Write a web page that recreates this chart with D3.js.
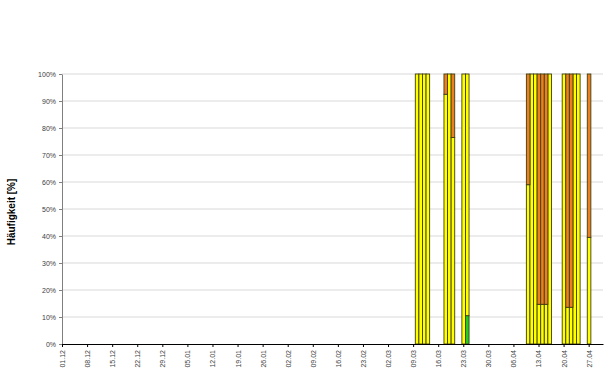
<!DOCTYPE html>
<html>
<head>
<meta charset="utf-8">
<script src="https://cdn.jsdelivr.net/npm/d3@7"></script>
<style>
  html, body { margin: 0; padding: 0; background: #fff; }
  svg { display: block; font-family: "Liberation Sans", Arial, sans-serif; }
</style>
</head>
<body>
<svg id="chart" width="616" height="380"></svg>
<script>
// ---- data ----
const tickLabels = ["01.12","08.12","15.12","22.12","29.12","05.01","12.01","19.01","26.01","02.02","09.02","16.02","23.02","02.03","09.03","16.03","23.03","30.03","06.04","13.04","20.04","27.04"];
const yTicks = [0,10,20,30,40,50,60,70,80,90,100];
const dates  = ["10.03","11.03","12.03","13.03","18.03","19.03","20.03","23.03","24.03","10.04","11.04","12.04","13.04","14.04","15.04","16.04","20.04","21.04","22.04","23.04","24.04","27.04"];
const green  = [0,0,0,0, 0,0,0, 0,10.5, 0,0,0,0,0,0,0, 0,0,0,0,0, 0];
const yellow = [100,100,100,100, 92.5,100,76.5, 100,89.5, 59,100,100,14.7,14.7,14.7,100, 100,13.6,13.6,100,100, 39.5];
const orange = [0,0,0,0, 7.5,0,23.5, 0,0, 41,0,0,85.3,85.3,85.3,0, 0,86.4,86.4,0,0, 60.5];
const seriesNames = ["green","yellow","orange"];
const yLabel = "Häufigkeit [%]";

// ---- helpers ----
function parseDM(s) {
  const [d, m] = s.split(".").map(Number);
  const y = m >= 11 ? 2008 : 2009;
  return new Date(Date.UTC(y, m - 1, d));
}

const svg = d3.select("#chart");
const L = 62, R = 603, T = 74, B = 344;

const x = d3.scaleUtc()
  .domain([parseDM("01.12"), parseDM("01.05")])
  .range([L, R]);
const y = d3.scaleLinear().domain([0, 100]).range([B, T]);
const dayW = x(parseDM("02.12")) - x(parseDM("01.12"));

const rows = dates.map((d, i) => ({ date: parseDM(d), green: green[i], yellow: yellow[i], orange: orange[i] }));
const stack = d3.stack().keys(seriesNames)(rows);
const colors = { green: "#22cc22", yellow: "#ffff00", orange: "#ee7f1e" };

// gridlines
svg.append("g").selectAll("line").data(yTicks.filter(v => v > 0)).join("line")
  .attr("x1", L).attr("x2", R)
  .attr("y1", d => y(d)).attr("y2", d => y(d))
  .attr("stroke", "#cfcfcf").attr("stroke-width", 0.8);

// bars
svg.append("g").selectAll("g").data(stack).join("g")
  .attr("fill", d => colors[d.key])
  .selectAll("rect").data(d => d.filter(p => p[1] - p[0] > 0)).join("rect")
  .attr("x", d => x(d.data.date) - dayW / 2 + 0.4)
  .attr("width", dayW)
  .attr("y", d => y(d[1]))
  .attr("height", d => y(d[0]) - y(d[1]))
  .attr("stroke", "#3f3f10").attr("stroke-width", 0.9);

// y axis
const yAxis = svg.append("g").attr("transform", `translate(${L},0)`)
  .call(d3.axisLeft(y).tickValues(yTicks).tickFormat(d => d + "%").tickSize(3).tickSizeOuter(0).tickPadding(3));
yAxis.select(".domain").attr("stroke", "#808080");
yAxis.selectAll(".tick line").attr("stroke", "#808080");
yAxis.selectAll("text").attr("font-size", 7).attr("fill", "#404040")
  .attr("font-family", "'Liberation Sans', Arial, sans-serif");

// x axis
const xAxis = svg.append("g").attr("transform", `translate(0,${B})`)
  .call(d3.axisBottom(x).tickValues(tickLabels.map(parseDM)).tickFormat((d, i) => tickLabels[i]).tickSize(3).tickSizeOuter(0));
xAxis.select(".domain").attr("stroke", "#000");
xAxis.selectAll(".tick line").attr("stroke", "#000");
xAxis.selectAll("text")
  .attr("font-size", 7).attr("fill", "#404040")
  .attr("font-family", "'Liberation Sans', Arial, sans-serif")
  .attr("transform", "rotate(-90)")
  .attr("text-anchor", "end")
  .attr("x", -6).attr("y", 0).attr("dy", "0.35em");

// y label
svg.append("text")
  .attr("transform", `translate(15,${(T + B) / 2 + 3}) rotate(-90)`)
  .attr("text-anchor", "middle")
  .attr("font-size", 10).attr("font-weight", "bold").attr("fill", "#000")
  .text(yLabel);
</script>
</body>
</html>
